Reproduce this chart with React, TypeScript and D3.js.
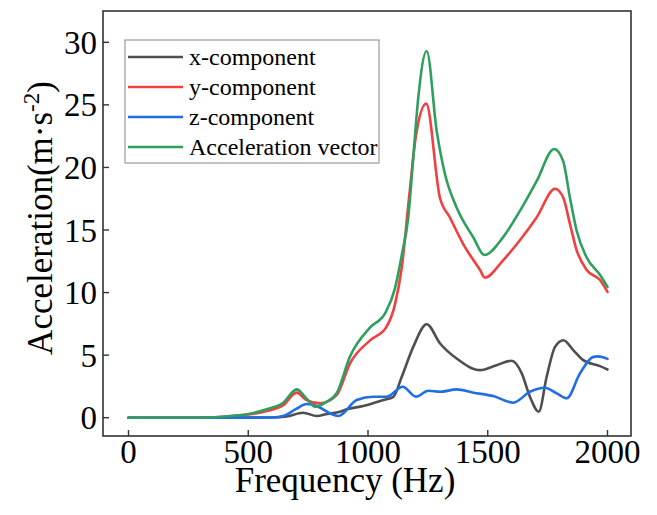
import React from "react";
import * as d3 from "d3";

const xTicks = [0, 500, 1000, 1500, 2000];
const yTicks = [0, 5, 10, 15, 20, 25, 30];

const seriesNames = ["x-component", "y-component", "z-component", "Acceleration vector"];
const seriesColors = ["#4f4f4f", "#f23f3f", "#1f6fe3", "#2f9f5f"];

const xFreq = [0, 300, 600, 660, 729, 786, 830, 883, 911, 980, 1064, 1106, 1141, 1189, 1245, 1301, 1370, 1468, 1537, 1600, 1642, 1676, 1713, 1746, 1781, 1816, 1857, 1899, 1969, 2000];
const xVals = [0, 0, 0.02, 0.1, 0.4, 0.13, 0.3, 0.48, 0.67, 0.93, 1.41, 1.67, 3.27, 5.66, 7.47, 5.93, 4.73, 3.8, 4.2, 4.55, 3.54, 1.68, 0.48, 3.27, 5.66, 6.19, 5.4, 4.6, 4.12, 3.85];

const yFreq = [0, 300, 437, 500, 577, 646, 702, 740, 800, 869, 925, 1010, 1075, 1112, 1141, 1171, 1200, 1243, 1300, 1342, 1397, 1468, 1488, 1565, 1635, 1704, 1781, 1815, 1843, 1871, 1913, 1969, 2000];
const yVals = [0, 0, 0.13, 0.25, 0.53, 1.0, 2.0, 1.45, 1.15, 1.8, 4.35, 6.2, 7.2, 9.0, 12.0, 17.5, 22.5, 25.1, 17.6, 16.0, 13.9, 11.8, 11.2, 12.6, 14.2, 16.0, 18.3, 17.6, 15.5, 13.4, 11.8, 11.0, 10.05];

const zFreq = [0, 400, 600, 646, 700, 744, 790, 841, 876, 953, 1022, 1078, 1145, 1200, 1252, 1301, 1370, 1440, 1523, 1607, 1676, 1739, 1788, 1830, 1885, 1941, 1960, 2000];
const zVals = [0, 0, 0.02, 0.13, 0.7, 1.09, 0.9, 0.35, 0.14, 1.41, 1.68, 1.68, 2.47, 1.68, 2.15, 2.07, 2.26, 2.0, 1.73, 1.2, 2.07, 2.39, 1.94, 1.55, 3.54, 4.86, 4.9, 4.7];

const aFreq = [0, 300, 437, 500, 577, 646, 702, 740, 779, 830, 869, 925, 1008, 1073, 1112, 1141, 1168, 1189, 1210, 1245, 1287, 1321, 1370, 1440, 1486, 1565, 1635, 1704, 1777, 1815, 1843, 1871, 1913, 1969, 2000];
const aVals = [0, 0, 0.15, 0.3, 0.67, 1.2, 2.26, 1.6, 0.88, 1.3, 1.95, 4.9, 7.2, 8.4, 10.3, 13.0, 16.0, 20.8, 25.6, 29.3, 22.9, 19.5, 16.8, 14.4, 13.0, 14.45, 16.55, 18.9, 21.47, 20.5, 17.6, 14.96, 12.8, 11.4, 10.45];

const series = [
  { f: xFreq, v: xVals },
  { f: yFreq, v: yVals },
  { f: zFreq, v: zVals },
  { f: aFreq, v: aVals },
];

export default function App() {
  const W = 657, H = 515;
  const left = 103, right = 631, top = 11, bottom = 436;
  const x = d3.scaleLinear().domain([0, 2000]).range([128.5, 607.5]);
  const y = d3.scaleLinear().domain([0, 30]).range([417.7, 42.3]);
  const line = d3
    .line<[number, number]>()
    .x((d) => x(d[0]))
    .y((d) => y(d[1]))
    .curve(d3.curveMonotoneX);
  const font = "'Liberation Serif', 'Times New Roman', serif";
  const axisColor = "#333";
  const tickLen = 6;

  const legendX = 125, legendY = 40, legendW = 254, legendH = 123;
  const rowY = [57, 87, 117, 147];

  return (
    <svg width={W} height={H} style={{ position: "absolute", left: 0, top: 0 }} fontFamily={font}>
      <rect x={0} y={0} width={W} height={H} fill="#fff" />
      <defs>
        <clipPath id="plotclip">
          <rect x={left} y={top} width={right - left} height={bottom - top} />
        </clipPath>
      </defs>
      <g clipPath="url(#plotclip)">
        {series.map((s, i) => (
          <path
            key={i}
            d={line(s.f.map((f, j) => [f, s.v[j]] as [number, number])) || ""}
            fill="none"
            stroke={seriesColors[i]}
            strokeWidth={2.6}
            strokeLinejoin="round"
            strokeLinecap="round"
          />
        ))}
      </g>
      <rect x={left} y={top} width={right - left} height={bottom - top} fill="none" stroke={axisColor} strokeWidth={1.6} />
      {xTicks.map((t) => (
        <g key={"x" + t}>
          <line x1={x(t)} x2={x(t)} y1={bottom} y2={bottom - tickLen} stroke={axisColor} strokeWidth={1.4} />
          <text x={x(t)} y={463} fontSize={33} textAnchor="middle" fill="#000">{t}</text>
        </g>
      ))}
      {yTicks.map((t) => (
        <g key={"y" + t}>
          <line x1={left} x2={left + tickLen} y1={y(t)} y2={y(t)} stroke={axisColor} strokeWidth={1.4} />
          <text x={97} y={y(t)} dy="0.35em" fontSize={33} textAnchor="end" fill="#000">{t}</text>
        </g>
      ))}
      <text x={345} y={492} fontSize={35} textAnchor="middle" fill="#000">Frequency (Hz)</text>
      <text transform="translate(52,218) rotate(-90)" fontSize={35} textAnchor="middle" fill="#000">
        Acceleration(m·s<tspan dy={-13} fontSize={23}>-2</tspan><tspan dy={13}>)</tspan>
      </text>
      <rect x={legendX} y={legendY} width={legendW} height={legendH} fill="#fff" stroke="#999" strokeWidth={1.2} />
      {seriesNames.map((n, i) => (
        <g key={n}>
          <line x1={128} x2={183} y1={rowY[i]} y2={rowY[i]} stroke={seriesColors[i]} strokeWidth={2.6} />
          <text x={189} y={rowY[i]} dy="0.33em" fontSize={24} fill="#000">{n}</text>
        </g>
      ))}
    </svg>
  );
}
